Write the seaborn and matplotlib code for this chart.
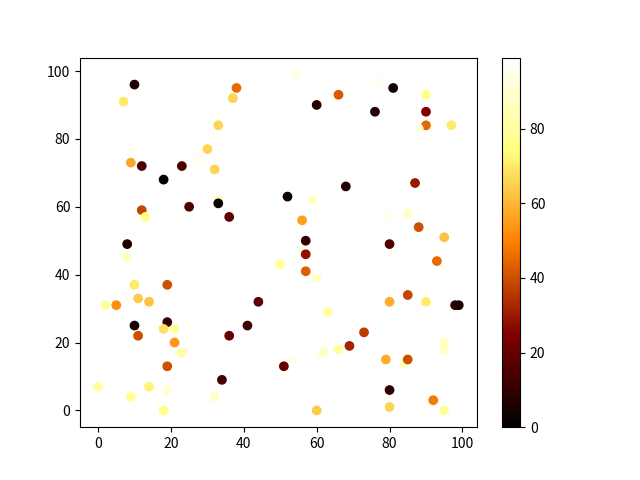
"""Scatter of random points coloured by a third value (afmhot)"""
import matplotlib
matplotlib.use('Agg')
import matplotlib.pyplot as plt
import seaborn as sns
import pandas as pd

# point positions and colour values
xs = [10, 38, 7, 37, 33, 30, 28, 9, 12, 23, 32, 18, 33, 33, 25, 12, 13, 36, 8,
      54, 77, 81, 66, 90, 60, 76, 90, 90, 88, 97, 87, 68, 52, 59, 80, 85, 56, 88, 95, 57, 80,
      7, 8, 50, 10, 19, 11, 14, 2, 5, 44, 10, 19, 18, 21, 11, 41, 36, 21, 23, 37, 19, 34,
      0, 14, 19, 9, 32, 18,
      56, 57, 93, 57, 60, 80, 85, 90, 98, 99, 63, 73, 95, 95, 69, 66, 61, 62, 53, 51,
      79, 84, 85, 80, 92, 60, 80, 95]
ys = [96, 95, 91, 92, 84, 77, 74, 73, 72, 72, 71, 68, 62, 61, 60, 59, 57, 57, 49,
      99, 97, 95, 93, 93, 90, 88, 88, 84, 83, 84, 67, 66, 63, 62, 57, 58, 56, 54, 51, 50, 49,
      46, 45, 43, 37, 37, 33, 32, 31, 31, 32, 25, 26, 24, 24, 22, 25, 22, 20, 17, 17, 13, 9,
      7, 7, 6, 4, 4, 0,
      47, 46, 44, 41, 39, 32, 34, 32, 31, 31, 29, 23, 20, 18, 19, 18, 17, 17, 15, 13,
      15, 14, 15, 6, 3, 0, 1, 0]
cs = [6, 45, 70, 66, 66, 66, 95, 57, 15, 15, 66, 1, 85, 2, 15, 38, 76, 18, 6,
      94, 96, 3, 42, 76, 7, 7, 25, 45, 92, 70, 30, 7, 3, 88, 95, 88, 55, 40, 62, 9, 15,
      95, 88, 78, 70, 40, 64, 62, 80, 52, 18, 5, 10, 68, 80, 40, 12, 20, 54, 82, 97, 40, 14,
      80, 72, 90, 78, 88, 76,
      92, 28, 45, 43, 88, 58, 38, 70, 10, 5, 80, 36, 88, 88, 32, 80, 95, 88, 95, 20,
      58, 85, 40, 10, 48, 64, 66, 78]

df = pd.DataFrame({'x': xs, 'y': ys, 'c': cs})

plt.rcParams['font.family'] = ['Noto Sans CJK SC', 'DejaVu Sans']
fig, ax = plt.subplots(figsize=(6.4, 4.8), dpi=100)

norm = plt.Normalize(0, 99)
sns.scatterplot(data=df, x='x', y='y', hue='c', palette='afmhot', hue_norm=norm,
                legend=False, s=36, linewidth=1, edgecolor='face', ax=ax)
ax.set_xlabel('')
ax.set_ylabel('')

sm = plt.cm.ScalarMappable(cmap='afmhot', norm=norm)
fig.colorbar(sm, ax=ax)

fig.savefig('out.png')
